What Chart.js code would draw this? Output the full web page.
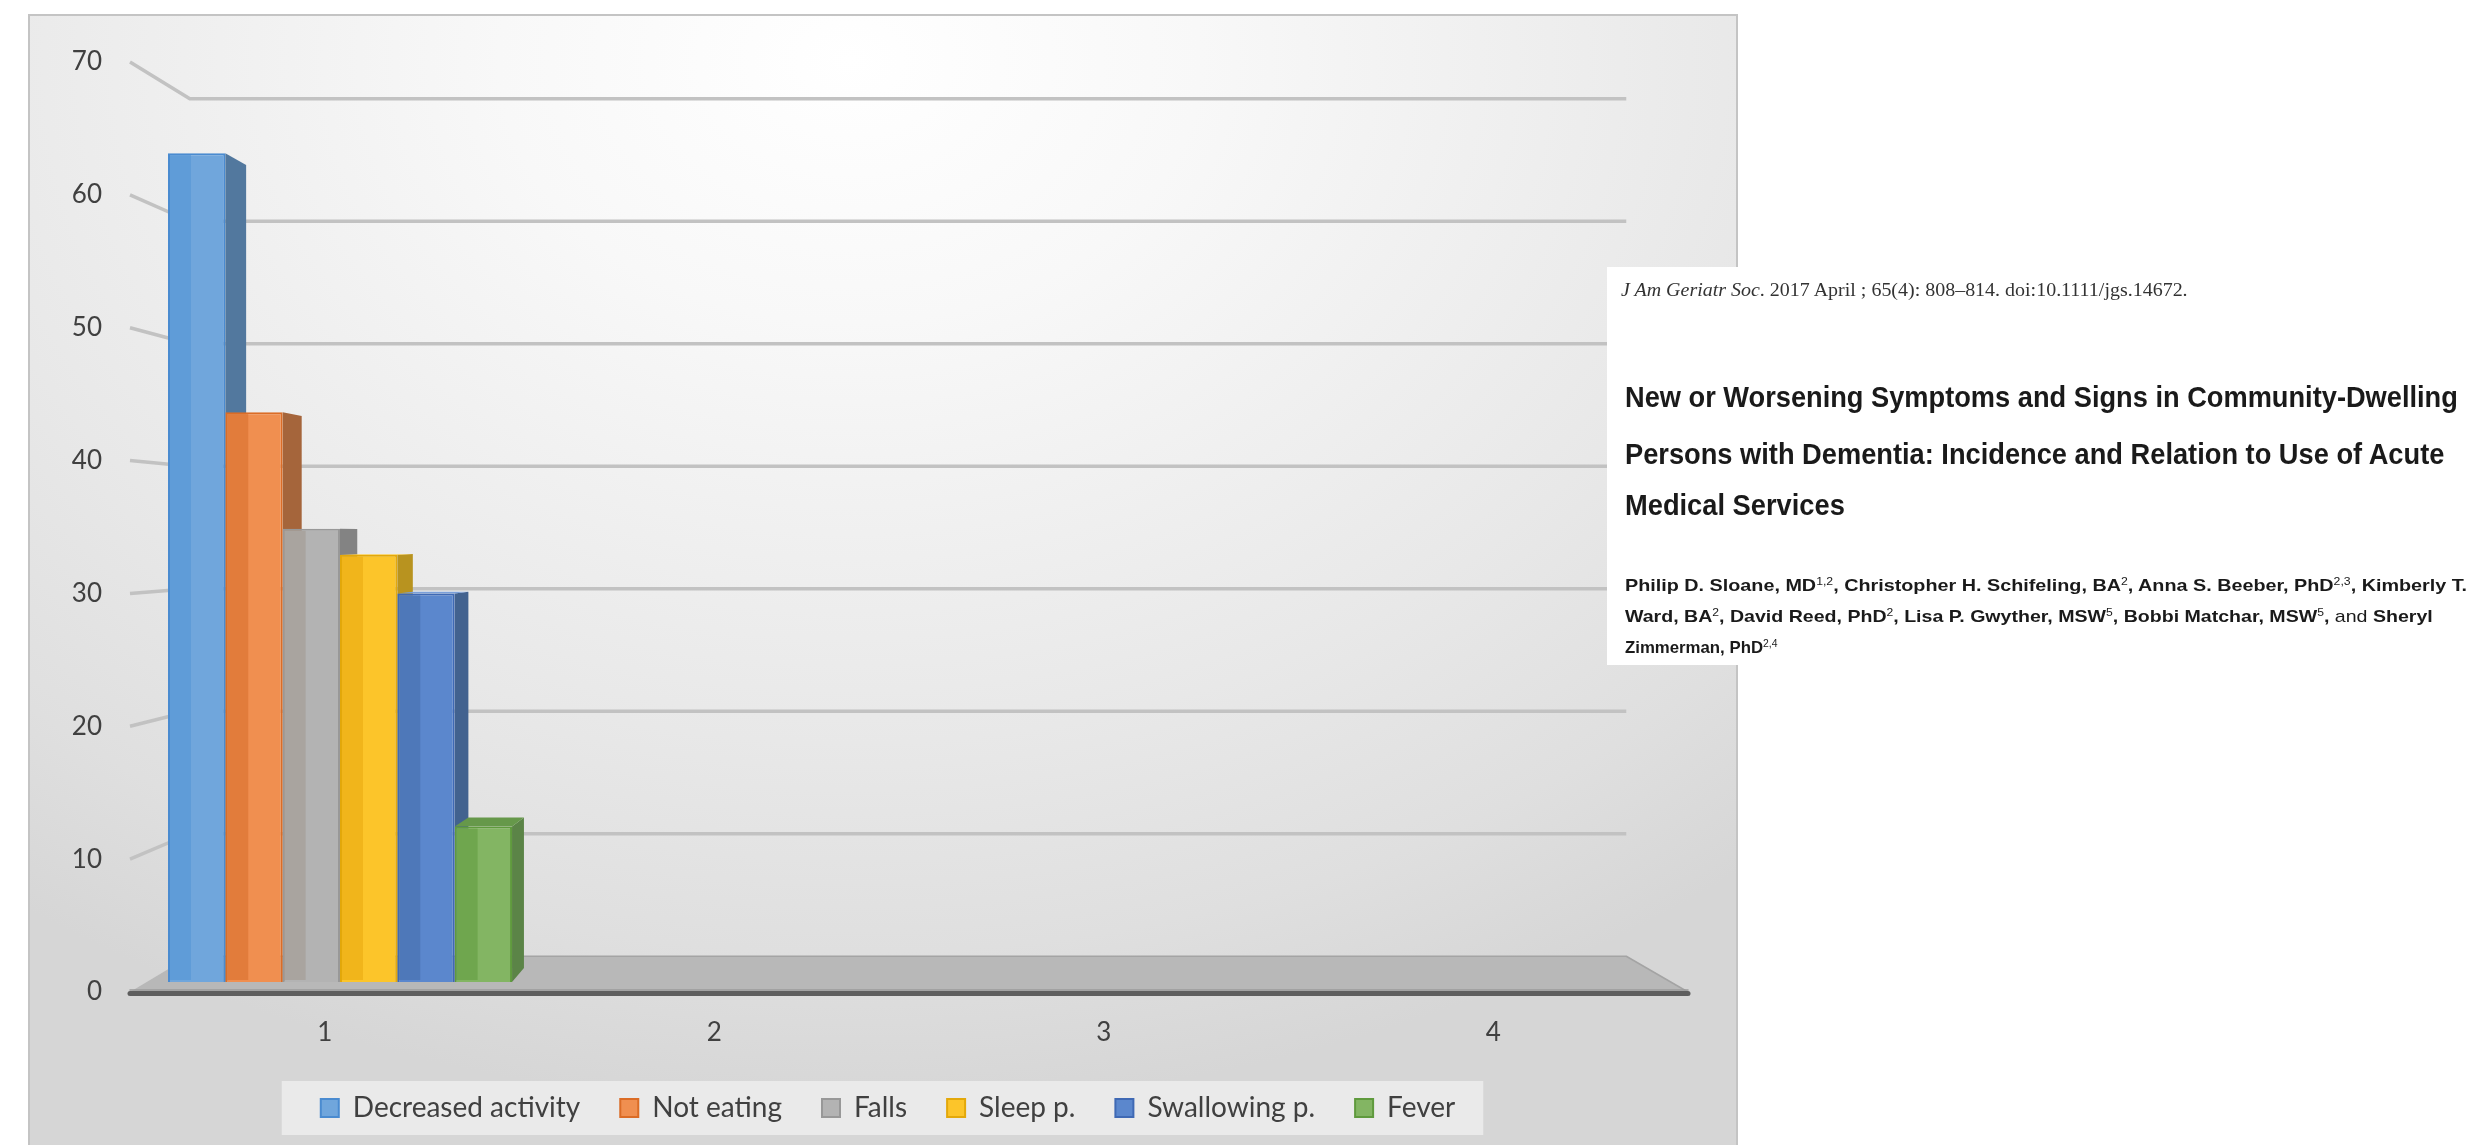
<!DOCTYPE html>
<html>
<head>
<meta charset="utf-8">
<title>New or worsening symptoms</title>
<script src="https://cdn.jsdelivr.net/npm/chart.js@4.4.1/dist/chart.umd.min.js"></script>
<style>
  html, body { margin: 0; padding: 0; background: #fff; }
  body { width: 2480px; height: 1145px; overflow: hidden; position: relative; }
  #chart { position: absolute; left: 0; top: 0; }
  #paper {
    position: absolute; left: 1607px; top: 267px; width: 873px; height: 398px;
    background: #fff; color: #1a1a1a;
    font-family: "Liberation Sans", Arial, sans-serif;
    filter: blur(0.6px);
  }
  #paper .line { position: absolute; white-space: nowrap; line-height: 1; transform-origin: 0 50%; }
  .cite { font-family: "Liberation Serif", "Times New Roman", serif; font-size: 18px; color: #333; }
  .title { font-weight: bold; font-size: 30px; }
  .authors { font-weight: bold; font-size: 17px; }
  .authors .plain { font-weight: normal; }
  #paper sup { font-size: 62%; line-height: 0; vertical-align: 0.55em; font-weight: normal; }
</style>
</head>
<body>
<canvas id="chart" width="2480" height="1145"></canvas>

<div id="paper">
  <div class="line cite" data-x="14" data-cy="23" data-w="567"><i>J Am Geriatr Soc</i>. 2017 April ; 65(4): 808–814. doi:10.1111/jgs.14672.</div>
  <div class="line title" data-x="18" data-cy="130" data-w="833">New or Worsening Symptoms and Signs in Community-Dwelling</div>
  <div class="line title" data-x="18" data-cy="187" data-w="819">Persons with Dementia: Incidence and Relation to Use of Acute</div>
  <div class="line title" data-x="18" data-cy="238" data-w="220">Medical Services</div>
  <div class="line authors" data-x="18" data-cy="318" data-w="842">Philip D. Sloane, MD<sup>1,2</sup>, Christopher H. Schifeling, BA<sup>2</sup>, Anna S. Beeber, PhD<sup>2,3</sup>, Kimberly T.</div>
  <div class="line authors" data-x="18" data-cy="349" data-w="808">Ward, BA<sup>2</sup>, David Reed, PhD<sup>2</sup>, Lisa P. Gwyther, MSW<sup>5</sup>, Bobbi Matchar, MSW<sup>5</sup>, <span class="plain">and</span> Sheryl</div>
  <div class="line authors" data-x="18" data-cy="380" data-w="152">Zimmerman, PhD<sup>2,4</sup></div>
</div>

<script>
// categories and series (percent of persons)
const categories = ['1', '2', '3', '4'];
const seriesNames = ['Decreased activity', 'Not eating', 'Falls', 'Sleep p.', 'Swallowing p.', 'Fever'];
const decreasedActivity = [64, null, null, null];
const notEating = [44, null, null, null];
const falls = [35, null, null, null];
const sleepProblems = [33, null, null, null];
const swallowingProblems = [30, null, null, null];
const fever = [12, null, null, null];
const yTicks = [0, 10, 20, 30, 40, 50, 60, 70];

const seriesValues = [decreasedActivity, notEating, falls, sleepProblems, swallowingProblems, fever];

// Office-style palette: front face, edge, left bevel strip, side and top faces
const faceColors  = ['#70a6dc', '#f08f50', '#b3b3b3', '#fcc52a', '#5b87cd', '#83b563'];
const edgeColors  = ['#4a8bd0', '#db6c26', '#989898', '#e3a80a', '#3f69b4', '#5f9a3d'];
const stripColors = ['#5f9cd8', '#e27c3b', '#a9a49f', '#f1b51b', '#4e78b9', '#6fa64e'];
const sideColors  = ['#52789e', '#a5653b', '#838383', '#b8931f', '#42628f', '#5b8447'];
const topColors   = ['#8ab8e4', '#f3a472', '#c6c6c6', '#fdd35a', '#7a9fd9', '#66984a'];

const PANEL = { left: 29, top: 15, right: 1737 };
const LEGEND_SPAN = { left: 88, right: 1688 };
const WALL_DEPTH = 0.078;   // how far the back wall recedes toward the vanishing point
const BAR_DEPTH = 0.031;    // thickness of each column

function vanish(area) {
  return {
    x: area.left + (area.right - area.left) * 0.492,
    y: area.top + (area.bottom - area.top) * 0.507
  };
}

function project(area, x, y, k) {
  const v = vanish(area);
  return [x + (v.x - x) * k, y + (v.y - y) * k];
}

function poly(c, pts, fill) {
  c.beginPath();
  c.moveTo(pts[0][0], pts[0][1]);
  for (let i = 1; i < pts.length; i++) c.lineTo(pts[i][0], pts[i][1]);
  c.closePath();
  c.fillStyle = fill;
  c.fill();
}

const scene3d = {
  id: 'scene3d',
  afterLayout(chart) {
    // center the legend under the panel rather than the whole canvas
    const lg = chart.legend;
    lg.left = LEGEND_SPAN.left;
    lg.right = LEGEND_SPAN.right;
    lg.width = LEGEND_SPAN.right - LEGEND_SPAN.left;
  },

  beforeDraw(chart) {
    const c = chart.ctx;
    const h = chart.height;

    // panel with soft radial shading
    c.save();
    c.translate(850, 60);
    c.scale(1, 0.75);
    const g = c.createRadialGradient(0, 0, 0, 0, 0, 1400);
    g.addColorStop(0, '#ffffff');
    g.addColorStop(0.25, '#f8f8f8');
    g.addColorStop(0.45, '#f0f0f0');
    g.addColorStop(0.65, '#e8e8e8');
    g.addColorStop(0.85, '#dfdfdf');
    g.addColorStop(1, '#d6d6d6');
    c.fillStyle = g;
    c.fillRect(PANEL.left - 850, (PANEL.top - 60) / 0.75, PANEL.right - PANEL.left, (h + 200) / 0.75);
    c.restore();

    c.save();
    c.strokeStyle = '#c4c4c4';
    c.lineWidth = 2;
    c.strokeRect(PANEL.left, PANEL.top, PANEL.right - PANEL.left, h + 50);

    // light band behind the legend
    const boxes = chart.legend.legendHitBoxes;
    if (boxes && boxes.length) {
      const first = boxes[0], last = boxes[boxes.length - 1];
      const cy = first.top + first.height / 2;
      c.fillStyle = 'rgba(245,245,245,0.65)';
      c.fillRect(first.left - 39, cy - 27, last.left + last.width + 28 - (first.left - 39), 54);
    }
    c.restore();
  },

  beforeDatasetsDraw(chart) {
    const c = chart.ctx;
    const area = chart.chartArea;
    const ys = chart.scales.y;
    const v = vanish(area);
    c.save();

    // gridlines: short run on the side wall, then across the back wall
    c.strokeStyle = '#c2c2c2';
    c.lineWidth = 3.5;
    c.lineJoin = 'round';
    ys.ticks.forEach(t => {
      if (t.value === 0) return;
      const yf = ys.getPixelForValue(t.value);
      const b = project(area, area.left, yf, WALL_DEPTH);
      const e = project(area, area.right, yf, WALL_DEPTH);
      c.beginPath();
      c.moveTo(area.left, yf);
      c.lineTo(b[0], b[1]);
      c.lineTo(e[0], e[1]);
      c.stroke();
    });

    // floor slab
    const y0 = ys.getPixelForValue(0);
    const bl = project(area, area.left, y0, WALL_DEPTH);
    const br = project(area, area.right, y0, WALL_DEPTH);
    poly(c, [[area.left, y0], bl, br, [area.right, y0]], '#b8b8b8');
    c.strokeStyle = '#a4a4a4';
    c.lineWidth = 1.5;
    c.beginPath();
    c.moveTo(bl[0], bl[1]);
    c.lineTo(br[0], br[1]);
    c.lineTo(area.right, y0);
    c.stroke();
    c.lineCap = 'round';
    c.strokeStyle = '#9a9a9a';
    c.lineWidth = 1.5;
    c.beginPath(); c.moveTo(area.left, y0 - 2); c.lineTo(area.right, y0 - 2); c.stroke();
    c.strokeStyle = '#5e5e5e';
    c.lineWidth = 5;
    c.beginPath(); c.moveTo(area.left, y0 + 1.5); c.lineTo(area.right, y0 + 1.5); c.stroke();

    // column sides (and tops when below eye level)
    chart.data.datasets.forEach((ds, i) => {
      const meta = chart.getDatasetMeta(i);
      meta.data.forEach((bar, j) => {
        if (ds.data[j] == null) return;
        const p = bar.getProps(['x', 'y', 'base', 'width'], true);
        const xl = p.x - p.width / 2, xr = p.x + p.width / 2;
        const t1 = project(area, xr, p.y, BAR_DEPTH);
        const t2 = project(area, xr, p.base, BAR_DEPTH);
        poly(c, [[xr, p.y], t1, t2, [xr, p.base]], sideColors[i]);
        if (p.y > v.y) {
          const t0 = project(area, xl, p.y, BAR_DEPTH);
          poly(c, [[xl, p.y], [xr, p.y], t1, t0], topColors[i]);
        }
      });
    });
    c.restore();
  },

  afterDatasetsDraw(chart) {
    const c = chart.ctx;
    c.save();
    chart.data.datasets.forEach((ds, i) => {
      const meta = chart.getDatasetMeta(i);
      meta.data.forEach((bar, j) => {
        if (ds.data[j] == null) return;
        const p = bar.getProps(['x', 'y', 'base', 'width'], true);
        const xl = p.x - p.width / 2;
        // bevel strip along the left of the front face
        c.fillStyle = stripColors[i];
        c.fillRect(xl + 2, p.y + 2, p.width * 0.4 - 2, p.base - p.y - 4);
      });
    });
    c.restore();
  }
};

function drawChart() {
  Chart.defaults.font.family = 'Lato, "Open Sans", sans-serif';
  const ctx = document.getElementById('chart').getContext('2d');

  new Chart(ctx, {
    type: 'bar',
    data: {
      labels: categories,
      datasets: seriesNames.map((name, i) => ({
        label: name,
        data: seriesValues[i],
        xAxisID: 'xBar',
        yAxisID: 'yBar',
        backgroundColor: faceColors[i],
        borderColor: edgeColors[i],
        borderWidth: 2,
        categoryPercentage: 0.903,
        barPercentage: 1
      }))
    },
    options: {
      responsive: false,
      animation: false,
      events: [],
      layout: { padding: { left: 20, top: 62, right: 792, bottom: 13 } },
      plugins: {
        tooltip: { enabled: false },
        legend: {
          position: 'bottom',
          labels: {
            font: { size: 28 },
            color: '#404040',
            boxWidth: 18,
            boxHeight: 18,
            padding: 40
          }
        }
      },
      scales: {
        x: {
          type: 'category',
          position: 'bottom',
          offset: true,
          grid: { display: false, drawTicks: false },
          border: { display: false },
          ticks: { padding: 25, font: { size: 26 }, color: '#404040' },
          afterFit: s => { s.height = 62; }
        },
        y: {
          type: 'linear',
          position: 'left',
          min: 0,
          max: 70,
          grid: { display: false, drawTicks: false },
          border: { display: false },
          ticks: { padding: 28, font: { size: 26 }, color: '#404040' },
          afterBuildTicks: s => { s.ticks = yTicks.map(v => ({ value: v })); },
          afterFit: s => { s.width = 110; }
        },
        // bars sit a little behind the labelled front plane
        xBar: {
          type: 'linear',
          position: 'bottom',
          display: false,
          offset: false,
          min: 0.4488,
          max: 4.538,
          ticks: { stepSize: 1, includeBounds: false }
        },
        yBar: {
          type: 'linear',
          position: 'left',
          display: false,
          min: -0.772,
          max: 71.04
        }
      }
    },
    plugins: [scene3d]
  });
}

// condense the article lines to their measured widths
function layoutPaper() {
  document.querySelectorAll('#paper .line').forEach(el => {
    const w = el.offsetWidth;
    const h = el.offsetHeight;
    el.style.left = el.dataset.x + 'px';
    el.style.top = (Number(el.dataset.cy) - h / 2) + 'px';
    el.style.transform = 'scaleX(' + (Number(el.dataset.w) / w) + ')';
  });
}

Promise.all([
  document.fonts.load('28px Lato'),
  document.fonts.load('bold 30px "Liberation Sans"'),
  document.fonts.load('18px "Liberation Serif"')
]).catch(() => null).then(() => {
  layoutPaper();
  drawChart();
});
</script>
</body>
</html>
